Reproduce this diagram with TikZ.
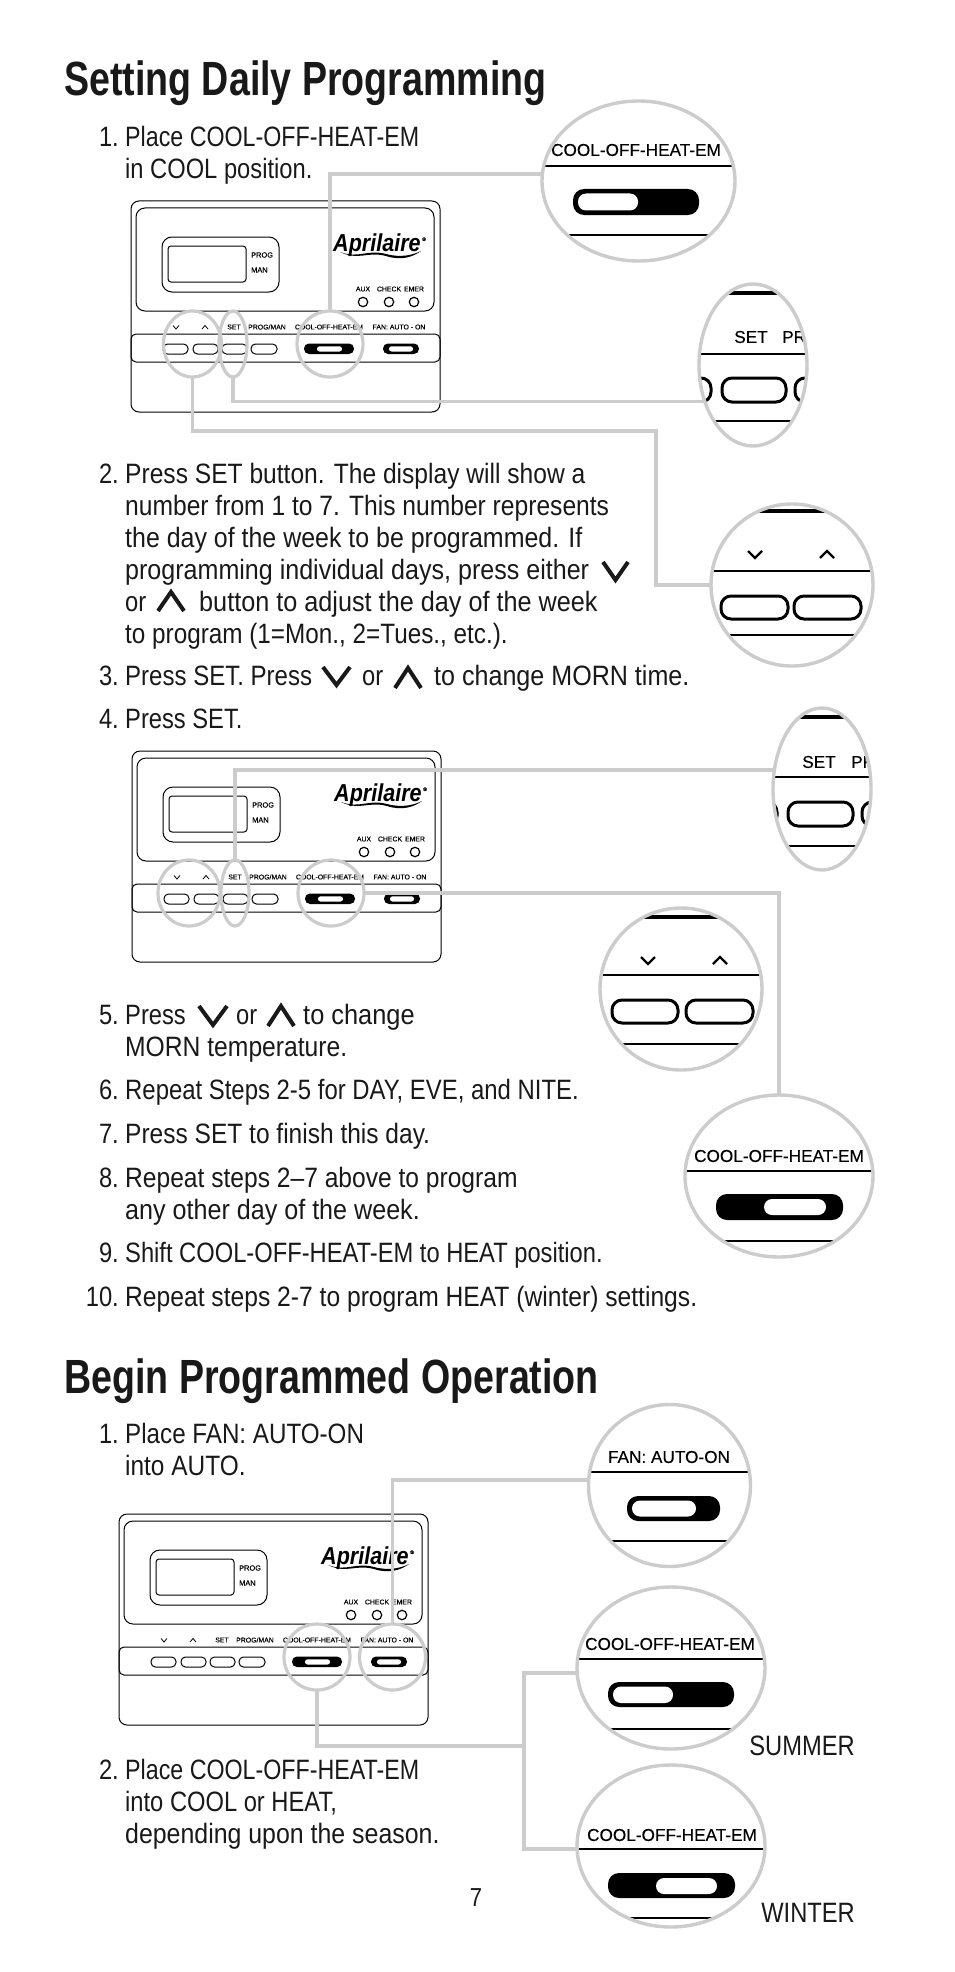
\documentclass[tikz,border=0pt]{standalone}
\usepackage{graphicx}
\usepackage{fontspec}
\usetikzlibrary{shapes.geometric}
\setmainfont{Liberation Sans}[FakeStretch=0.847]
\newfontfamily\smallf{Liberation Sans}[FakeBold=0.25]
\newfontfamily\logof{Liberation Sans}[FakeStretch=0.88]
\newfontfamily\titlef{Liberation Sans}[FakeStretch=0.783]
\definecolor{lensgray}{HTML}{CCCCCC}
\newcommand{\sx}[2]{\scalebox{#1}[1]{#2}}
\tikzset{
  body/.style={anchor=base west,inner sep=0pt,font=\fontsize{28}{32}\selectfont,text=black!90},
  numlab/.style={anchor=base east,inner sep=0pt,font=\fontsize{28}{32}\selectfont,text=black!90},
  head/.style={anchor=base west,inner sep=0pt,font=\titlef\bfseries\fontsize{48}{52}\selectfont,text=black!90},
  tinylab/.style={inner sep=0pt,font=\smallf\fontsize{6.9}{8}\selectfont},
  biglab/.style={inner sep=0pt,font=\smallf\fontsize{17.2}{20}\selectfont},
  lens/.style={draw=lensgray,line width=3.4pt},
  leader/.style={draw=lensgray,line width=3.6pt,line join=miter},
  anchorell/.style={ellipse,inner sep=0pt,outer sep=0pt,fill=white},
  tline/.style={draw=black,line width=1pt},
  mline/.style={draw=black,line width=1.8pt},
  mtop/.style={draw=black,line width=3.4pt},
  chev/.style={draw=black!90,line width=4pt,line join=miter},
  mchev/.style={draw=black,line width=2.2pt,line join=miter},
  pilla/.style={draw=black,line width=3pt,fill=white},
}
\newcommand{\bigpill}[5]{\path[fill=#5,rounded corners=11pt] (#1,#2) rectangle (#3,#4);}
\newcommand{\chevdown}[5][chev]{\draw[#1] (#2,#3) -- ({(#2+#4)/2},#5) -- (#4,#3);}
\newcommand{\chevup}[5][chev]{\draw[#1] (#2,#5) -- ({(#2+#4)/2},#3) -- (#4,#5);}
\newcommand{\thermo}[3]{%
\begin{scope}[shift={(#2,#3)}]
 \draw[tline,rounded corners=8pt] (0,0) rectangle (309,211);
 \draw[tline,rounded corners=9pt] (5,7) rectangle (303,110);
 \draw[tline,rounded corners=10pt] (31,36) rectangle (148,91);
 \draw[tline,rounded corners=3pt] (37,45) rectangle (115,81);
 \node[tinylab,anchor=west] (#1prog) at (120,54) {\fontsize{7.4}{8}\selectfont PROG};
 \node[tinylab,anchor=west] (#1man) at (120,69) {\fontsize{7.4}{8}\selectfont MAN};
 \node[inner sep=0pt,anchor=base west,font=\logof\bfseries\itshape\fontsize{24.5}{26}\selectfont] (#1logo) at (202,50) {Aprilaire};
 \node[inner sep=0pt,anchor=base west,font=\smallf\fontsize{5}{5}\selectfont] (#1reg) at (291,40) {®};
 \path[fill=black] (209,51) .. controls (228,58) and (236,48) .. (255,53) .. controls (270,57) and (282,54) .. (290,50) .. controls (282,56) and (270,60) .. (255,55) .. controls (236,50) and (228,60) .. (209,51) -- cycle;
 \node[tinylab] (#1aux) at (232,88) {AUX};
 \node[tinylab] (#1check) at (258,88) {CHECK};
 \node[tinylab] (#1emer) at (283,88) {EMER};
 \draw[tline,line width=1.2pt] (232,101) circle (4.7);
 \draw[tline,line width=1.2pt] (258,101) circle (4.7);
 \draw[tline,line width=1.2pt] (283,101) circle (4.7);
 \chevdown[draw=black,line width=.8pt]{42}{124.5}{48}{128}
 \chevup[draw=black,line width=.8pt]{71}{124.5}{77}{128}
 \node[tinylab] (#1set) at (103,126) {SET};
 \node[tinylab] (#1pm) at (136,126) {PROG/MAN};
 \node[tinylab] (#1cool) at (198,126) {COOL-OFF-HEAT-EM};
 \node[tinylab] (#1fan) at (268,126) {FAN: AUTO - ON};
 \draw[tline,rounded corners=5pt] (0,133) rectangle (309,161);
 \foreach \xa/\xb in {32/57,62/87,91/116,120/146}{
   \draw[tline,rounded corners=4.5pt] (\xa,143) rectangle (\xb,153);}
 \path[fill=black,rounded corners=5pt] (173,142.5) rectangle (223,153);
 \path[fill=white,rounded corners=2.5pt] (186,145.3) rectangle (211,150.5);
 \path[fill=black,rounded corners=5pt] (252,142.5) rectangle (288,153);
 \path[fill=white,rounded corners=2.5pt] (258,145.3) rectangle (282,150.5);
\end{scope}}
\newcommand{\lensnode}[6]{%
 \node[anchorell,minimum width=#4*2pt,minimum height=#5*2pt] (#1) at (#2,#3) {};
 \begin{scope}
  \clip (#2,#3) ellipse [x radius=#4,y radius=#5];
  #6
 \end{scope}
 \draw[lens] (#2,#3) ellipse [x radius=#4,y radius=#5];}
\newcommand{\mhl}[4][mline]{\draw[#1] (#2,#4) -- (#3,#4);}
\begin{document}
\begin{tikzpicture}[x=1pt,y=-1pt]
\useasboundingbox[fill=white] (0,0) rectangle (954,1972);

\node[head] (h1) at (64,96) {Setting Daily Programming};
\node[head] (h2) at (64,1393) {Begin Programmed Operation};

\node[numlab] (n1) at (119,147) {1.};
\node[body] (t1a) at (125,147) {\sx{.98}{Place COOL-OFF-HEAT-EM}};
\node[body] (t1b) at (125,179) {in COOL position.};

\node[numlab] (n2) at (119,483) {2.};
\node[body] (t2a) at (125,483) {\sx{1.037}{Press SET button. The display will show a}};
\node[body] (t2b) at (125,515) {\sx{1.038}{number from 1 to 7. This number represents}};
\node[body] (t2c) at (125,547) {\sx{1.052}{the day of the week to be programmed. If}};
\node[body] (t2d) at (125,579) {\sx{1.057}{programming individual days, press either}};
\chevdown{603}{562}{628}{580}
\node[body] (t2e) at (125,611) {or};
\chevup{158}{592}{184}{611}
\node[body] (t2f) at (199,611) {\sx{1.064}{button to adjust the day of the week}};
\node[body] (t2g) at (125,643) {\sx{1.024}{to program (1=Mon., 2=Tues., etc.).}};

\node[numlab] (n3) at (119,685) {3.};
\node[body] (t3a) at (125,685) {\sx{1.013}{Press SET. Press}};
\chevdown{323}{667}{350}{685}
\node[body] (t3b) at (362,685) {or};
\chevup{395}{668}{421}{688}
\node[body] (t3c) at (434,685) {\sx{1.058}{to change MORN time.}};

\node[numlab] (n4) at (119,728) {4.};
\node[body] (t4a) at (125,728) {Press SET.};

\node[numlab] (n5) at (119,1024) {5.};
\node[body] (t5a) at (125,1024) {Press};
\chevdown{199}{1006}{227}{1025}
\node[body] (t5b) at (236,1024) {or};
\chevup{268}{1006}{294}{1026}
\node[body] (t5c) at (303,1024) {\sx{1.07}{to change}};
\node[body] (t5d) at (125,1056) {\sx{1.04}{MORN temperature.}};

\node[numlab] (n6) at (119,1099) {6.};
\node[body] (t6a) at (125,1099) {\sx{1.008}{Repeat Steps 2-5 for DAY, EVE, and NITE.}};
\node[numlab] (n7) at (119,1143) {7.};
\node[body] (t7a) at (125,1143) {\sx{1.034}{Press SET to finish this day.}};
\node[numlab] (n8) at (119,1187) {8.};
\node[body] (t8a) at (125,1187) {\sx{1.037}{Repeat steps 2–7 above to program}};
\node[body] (t8b) at (125,1219) {\sx{1.059}{any other day of the week.}};
\node[numlab] (n9) at (119,1262) {9.};
\node[body] (t9a) at (125,1262) {Shift COOL-OFF-HEAT-EM to HEAT position.};
\node[numlab] (n10) at (119,1306) {10.};
\node[body] (t10a) at (125,1306) {\sx{1.039}{Repeat steps 2-7 to program HEAT (winter) settings.}};

\node[numlab] (b1) at (119,1443) {1.};
\node[body] (b1a) at (125,1443) {\sx{1.02}{Place FAN: AUTO-ON}};
\node[body] (b1b) at (125,1475) {\sx{1.03}{into AUTO.}};
\node[numlab] (b2) at (119,1779) {2.};
\node[body] (b2a) at (125,1779) {\sx{.98}{Place COOL-OFF-HEAT-EM}};
\node[body] (b2b) at (125,1811) {into COOL or HEAT,};
\node[body] (b2c) at (125,1843) {\sx{1.05}{depending upon the season.}};

\node[body,anchor=base east] (summer) at (855,1755) {SUMMER};
\node[body,anchor=base east] (winter) at (855,1922) {WINTER};
\node[body,anchor=base,font=\fontsize{26}{30}\selectfont] (page) at (476,1906) {7};

\thermo{ta}{131}{201}
\thermo{tb}{132}{751}
\thermo{tc}{119}{1514}

\tikzset{ring/.style={ellipse,draw=lensgray,line width=3.2pt,inner sep=0pt,outer sep=0pt}}
\node[ring,minimum width=58pt,minimum height=66pt] (ra) at (192.5,344) {};
\node[ring,minimum width=28pt,minimum height=66pt] (rs) at (233,344) {};
\node[ring,minimum width=66pt,minimum height=66pt] (rc) at (330,344) {};
\node[ring,minimum width=62pt,minimum height=66pt] (qa) at (189,893) {};
\node[ring,minimum width=28pt,minimum height=66pt] (qs) at (235,893) {};
\node[ring,minimum width=66pt,minimum height=66pt] (qc) at (331,893) {};
\node[ring,minimum width=66pt,minimum height=66pt] (pc) at (317,1657) {};
\node[ring,minimum width=66pt,minimum height=66pt] (pf) at (392.5,1657) {};

\lensnode{ma}{638.5}{181}{96.5}{80}{
  \node[biglab] (mat) at (636,150) {COOL-OFF-HEAT-EM};
  \mhl{540}{740}{166}
  \mhl{540}{740}{235}
  \bigpill{573}{189}{699}{215}{black}
  \path[fill=white,rounded corners=8pt] (578,193.5) rectangle (638,210.5);
}
\lensnode{mb}{753}{365}{54}{81}{
  \mhl[mtop]{720}{790}{293}
  \node[biglab] (mbt) at (751,337) {SET};
  \node[biglab,anchor=west] (mbp) at (782,337) {PROG};
  \mhl{690}{815}{354}
  \mhl{690}{815}{421}
  \draw[pilla,rounded corners=10pt] (650,378) rectangle (711,402);
  \draw[pilla,rounded corners=10pt] (722,378) rectangle (786,402);
  \draw[pilla,rounded corners=10pt] (795,378) rectangle (860,402);
}
\lensnode{mc}{792}{585}{81}{81}{
  \mhl[mtop]{755}{830}{511}
  \chevdown[mchev]{748}{551}{762}{558}
  \chevup[mchev]{820}{551}{834}{558}
  \mhl{705}{880}{571}
  \draw[pilla,rounded corners=10pt] (721,596) rectangle (788,619);
  \draw[pilla,rounded corners=10pt] (794,596) rectangle (861,619);
  \mhl{705}{880}{635}
}
\lensnode{md}{822}{789}{49}{81}{
  \mhl[mtop]{800}{844}{717}
  \node[biglab] (mdt) at (819,762) {SET};
  \node[biglab,anchor=west] (mdp) at (851,762) {PROG};
  \mhl{765}{880}{777}
  \mhl{765}{880}{846}
  \draw[pilla,rounded corners=10pt] (715,802) rectangle (777,826);
  \draw[pilla,rounded corners=10pt] (788,802) rectangle (853,826);
  \draw[pilla,rounded corners=10pt] (862,802) rectangle (925,826);
}
\lensnode{me}{681}{989}{81}{81}{
  \mhl[mtop]{642}{720}{917}
  \chevdown[mchev]{641}{957}{655}{964}
  \chevup[mchev]{713}{957}{727}{964}
  \mhl{595}{770}{975}
  \draw[pilla,rounded corners=10pt] (612,1000) rectangle (678,1023);
  \draw[pilla,rounded corners=10pt] (686,1000) rectangle (753,1023);
  \mhl{595}{770}{1044}
}
\lensnode{mf}{779}{1176}{94}{81}{
  \node[biglab] (mft) at (779,1156) {COOL-OFF-HEAT-EM};
  \mhl{680}{880}{1171}
  \mhl{680}{880}{1241}
  \bigpill{716}{1194}{843}{1220}{black}
  \path[fill=white,rounded corners=8pt] (764,1199) rectangle (826,1215);
}
\lensnode{mg}{669.5}{1485.5}{81}{81}{
  \node[biglab] (mgt) at (669,1457) {FAN: AUTO-ON};
  \mhl{585}{755}{1472}
  \mhl{585}{755}{1541}
  \bigpill{627}{1496}{720}{1521}{black}
  \path[fill=white,rounded corners=8pt] (632,1500.5) rectangle (696,1516.5);
}
\lensnode{mh}{671}{1668}{94}{81}{
  \node[biglab] (mht) at (670,1644) {COOL-OFF-HEAT-EM};
  \mhl{570}{770}{1659}
  \mhl{570}{770}{1729}
  \bigpill{608}{1682}{734}{1707}{black}
  \path[fill=white,rounded corners=8pt] (613,1686.5) rectangle (673,1703);
}
\lensnode{mi}{671}{1846}{94}{81}{
  \node[biglab] (mit) at (672,1835) {COOL-OFF-HEAT-EM};
  \mhl{570}{770}{1849}
  \mhl{570}{770}{1918}
  \bigpill{608}{1873}{735}{1898}{black}
  \path[fill=white,rounded corners=8pt] (656,1878) rectangle (717,1894);
}

\coordinate (k1) at (656,431);
\coordinate (k2) at (524,1746);
\draw[leader] (rc.north) |- (ma.176);
\draw[leader] (rs.south) |- (mb.217);
\draw[leader] (ra.south) |- (k1) |- (mc.west);
\draw[leader] (qs.north) |- (md.158);
\draw[leader] (qc.east) -| (mf.north);
\draw[leader] (pf.north) |- (mg.176);
\draw[leader] (pc.south) |- (k2);
\draw[leader] (mh.183) -| (k2) |- (mi.182);
\end{tikzpicture}
\end{document}
